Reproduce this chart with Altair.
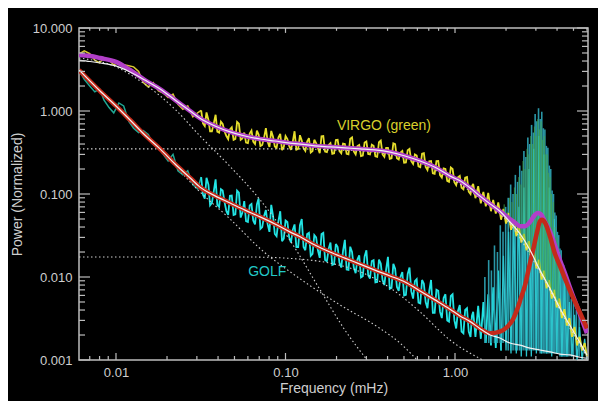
import altair as alt
import pandas as pd

# ---------------- data ----------------
freq = [0.0061, 0.0065, 0.0070, 0.0075, 0.0080, 0.0085, 0.0091, 0.0097, 0.0104, 0.0111,
        0.0119, 0.0127, 0.0136, 0.0145, 0.0155, 0.0166, 0.0178, 0.0190, 0.0203, 0.0217,
        0.0232, 0.0248, 0.0265, 0.0284, 0.0303,
        0.0318, 0.0334, 0.0351, 0.0368, 0.0387, 0.0406, 0.0426, 0.0448, 0.0470, 0.0494,
        0.0518, 0.0544, 0.0571, 0.0600, 0.0630, 0.0661, 0.0694, 0.0729, 0.0766, 0.0804,
        0.0844, 0.0886, 0.0931, 0.0977, 0.1026, 0.1077, 0.1131, 0.1188, 0.1247, 0.1309,
        0.1375, 0.1444, 0.1516, 0.1592, 0.1671, 0.1755, 0.1842, 0.1935, 0.2031, 0.2133,
        0.2240, 0.2352, 0.2469, 0.2593, 0.2722, 0.2858, 0.3001, 0.3151, 0.3309, 0.3474,
        0.3648, 0.3830, 0.4022, 0.4223, 0.4434, 0.4656, 0.4889, 0.5133, 0.5390, 0.5659,
        0.5942, 0.6239, 0.6551, 0.6879, 0.7223, 0.7584, 0.7963, 0.8361, 0.8779, 0.9218,
        0.9679, 1.016, 1.067, 1.121, 1.177, 1.235,
        1.28, 1.32, 1.37, 1.42, 1.47, 1.52, 1.57, 1.63, 1.68, 1.74,
        1.80, 1.87, 1.93, 2.00, 2.07, 2.14, 2.22, 2.30, 2.38, 2.46,
        2.55, 2.64, 2.73, 2.82, 2.92, 3.02, 3.13, 3.24, 3.35, 3.47,
        3.59, 3.72, 3.85, 3.98, 4.12, 4.27, 4.42, 4.57, 4.73, 4.90,
        5.07, 5.25, 5.43, 5.62, 5.82, 6.00]

virgo_power = [4.9, 5.3, 4.9, 4.1, 3.8, 4.4, 4.1, 3.6, 3.9, 3.6,
               3.5, 3.4, 3.0, 2.2, 1.95, 2.2, 1.75, 1.65, 1.45, 1.6,
               1.2, 1.05, 1.15, 0.85, 0.95,
               1.02, 0.66, 0.78, 0.57, 0.90, 0.55, 0.70, 0.50, 0.60, 0.45,
               0.74, 0.45, 0.55, 0.41, 0.58, 0.40, 0.52, 0.39, 0.62, 0.37,
               0.49, 0.36, 0.53, 0.37, 0.46, 0.34, 0.57, 0.35, 0.44, 0.33,
               0.47, 0.33, 0.41, 0.31, 0.50, 0.32, 0.41, 0.31, 0.45, 0.31,
               0.40, 0.30, 0.48, 0.30, 0.39, 0.29, 0.43, 0.30, 0.38, 0.28,
               0.44, 0.28, 0.36, 0.27, 0.40, 0.26, 0.33, 0.24, 0.35, 0.23,
               0.29, 0.21, 0.31, 0.195, 0.25, 0.175, 0.25, 0.158, 0.20, 0.14,
               0.20, 0.128, 0.165, 0.114, 0.16, 0.10,
               0.132, 0.089, 0.124, 0.077, 0.106, 0.071, 0.103, 0.062, 0.085, 0.058,
               0.079, 0.049, 0.066, 0.044, 0.059, 0.037, 0.049, 0.031, 0.043, 0.026,
               0.033, 0.021, 0.027, 0.0165, 0.0205, 0.0127, 0.0161, 0.0093, 0.0119, 0.0073,
               0.0092, 0.0055, 0.0070, 0.0043, 0.0055, 0.0032, 0.0041, 0.0026, 0.0032, 0.0019,
               0.0025, 0.0015, 0.0019, 0.0013, 0.0016, 0.0011]

golf_power = [3.0, 2.4, 2.0, 1.7, 1.85, 1.35, 1.1, 0.95, 1.25, 1.15,
              0.75, 0.62, 0.55, 0.58, 0.52, 0.40, 0.38, 0.30, 0.25, 0.30,
              0.19, 0.17, 0.19, 0.13, 0.115,
              0.16, 0.088, 0.13, 0.078, 0.15, 0.070, 0.11, 0.062, 0.095, 0.056,
              0.11, 0.052, 0.082, 0.046, 0.076, 0.043, 0.088, 0.040, 0.064, 0.035,
              0.055, 0.031, 0.062, 0.029, 0.046, 0.026, 0.043, 0.023, 0.050, 0.021,
              0.034, 0.019, 0.030, 0.017, 0.034, 0.0155, 0.026, 0.0143, 0.023, 0.0130,
              0.028, 0.0122, 0.020, 0.0111, 0.0182, 0.0102, 0.021, 0.0096, 0.0160, 0.0087,
              0.0145, 0.0080, 0.0175, 0.0074, 0.0126, 0.0068, 0.0115, 0.0061, 0.0130, 0.0055,
              0.0094, 0.0048, 0.0083, 0.0042, 0.0092, 0.0037, 0.0068, 0.0032, 0.0062, 0.0029,
              0.0062, 0.0024, 0.0046, 0.0021, 0.0042, 0.0019,
              0.0038, 0.0019, 0.0045, 0.0018, 0.0050, 0.0016, 0.0062, 0.0015, 0.0075, 0.0014,
              0.012, 0.0013, 0.018, 0.0013, 0.035, 0.0012, 0.05, 0.0012, 0.07, 0.0011,
              0.12, 0.0011, 0.2, 0.0011, 0.35, 0.0012, 0.5, 0.0012, 0.3, 0.0012,
              0.12, 0.0011, 0.05, 0.0012, 0.02, 0.0011, 0.009, 0.0011, 0.005, 0.0011,
              0.0035, 0.0010, 0.0025, 0.0010, 0.0018, 0.0010]

# extra spectrum bins lying between the bins above (0.03-1.26 mHz)
mid_freq = [0.0326, 0.0342, 0.0359, 0.0377, 0.0396, 0.0416, 0.0437, 0.0459, 0.0482, 0.0506,
            0.0531, 0.0557, 0.0585, 0.0615, 0.0645, 0.0678, 0.0711, 0.0747, 0.0785, 0.0824,
            0.0865, 0.0908, 0.0954, 0.1001, 0.1051, 0.1104, 0.1159, 0.1217, 0.1278, 0.1342,
            0.1409, 0.1479, 0.1553, 0.1631, 0.1712, 0.1798, 0.1888, 0.1982, 0.2081, 0.2185,
            0.2295, 0.2409, 0.2530, 0.2656, 0.2789, 0.2929, 0.3075, 0.3229, 0.3390, 0.3560,
            0.3738, 0.3924, 0.4121, 0.4327, 0.4543, 0.4770, 0.5009, 0.5259, 0.5522, 0.5799,
            0.6089, 0.6393, 0.6713, 0.7048, 0.7401, 0.7771, 0.8159, 0.8567, 0.8996, 0.9445,
            0.9918, 1.041, 1.093, 1.148, 1.205, 1.258]
virgo_mid = [0.71, 0.96, 0.57, 0.70, 0.565, 0.744, 0.567, 0.458, 0.635, 0.462,
             0.705, 0.466, 0.416, 0.534, 0.428, 0.581, 0.379, 0.475, 0.425, 0.575,
             0.374, 0.478, 0.338, 0.50, 0.379, 0.427, 0.342, 0.511, 0.356, 0.429,
             0.316, 0.45, 0.359, 0.495, 0.325, 0.39, 0.305, 0.447, 0.328, 0.404,
             0.305, 0.463, 0.326, 0.379, 0.286, 0.416, 0.304, 0.393, 0.285, 0.42,
             0.299, 0.36, 0.266, 0.408, 0.269, 0.316, 0.238, 0.336, 0.248, 0.30,
             0.215, 0.306, 0.212, 0.248, 0.178, 0.249, 0.169, 0.203, 0.144, 0.209,
             0.139, 0.159, 0.119, 0.157, 0.107, 0.124]
golf_mid = [0.098, 0.157, 0.073, 0.106, 0.074, 0.114, 0.080, 0.056, 0.096, 0.057,
            0.104, 0.060, 0.047, 0.073, 0.048, 0.075, 0.038, 0.054, 0.043, 0.074,
            0.033, 0.047, 0.027, 0.048, 0.030, 0.037, 0.023, 0.042, 0.023, 0.033,
            0.018, 0.032, 0.021, 0.033, 0.016, 0.022, 0.014, 0.025, 0.0148, 0.0206,
            0.0123, 0.0232, 0.013, 0.0162, 0.0099, 0.0177, 0.0105, 0.0156, 0.0086, 0.0162,
            0.0092, 0.0124, 0.0072, 0.0144, 0.0076, 0.0101, 0.0060, 0.0109, 0.0067, 0.0089,
            0.0049, 0.0092, 0.0050, 0.0068, 0.0037, 0.0070, 0.0038, 0.0056, 0.0030, 0.0059,
            0.0030, 0.0039, 0.0022, 0.0040, 0.0022, 0.0034]

# p-mode spikes
pmode_freq = [1.50, 1.58, 1.64, 1.71, 1.78, 1.85, 1.92, 1.99, 2.06, 2.13,
              2.20, 2.27, 2.34, 2.41, 2.48, 2.55, 2.62, 2.69, 2.76, 2.83,
              2.90, 2.97, 3.04, 3.11, 3.18, 3.25, 3.32, 3.39, 3.46, 3.53,
              3.60, 3.67, 3.74, 3.81, 3.88, 3.95, 4.02, 4.09, 4.16, 4.23,
              4.30, 4.37, 4.44, 4.51, 4.60, 4.70, 4.85, 5.00, 5.20, 5.40]
golf_pmode_peak = [0.010, 0.016, 0.012, 0.024, 0.020, 0.042, 0.035, 0.070, 0.090, 0.130,
                   0.100, 0.170, 0.140, 0.220, 0.190, 0.330, 0.280, 0.480, 0.400, 0.680,
                   0.550, 0.920, 0.750, 1.080, 0.800, 0.980, 0.620, 0.600, 0.380, 0.360,
                   0.220, 0.200, 0.110, 0.100, 0.060, 0.055, 0.035, 0.032, 0.022, 0.021,
                   0.014, 0.014, 0.010, 0.010, 0.0075, 0.007, 0.0055, 0.005, 0.004, 0.0034]
golf_pmode_base = [0.0016] * 8 + [0.0013] * 16 + [0.0012] * 14 + [0.0011] * 12

virgo_pmode_freq = [1.95, 2.03, 2.10, 2.17, 2.24, 2.31, 2.38, 2.45, 2.52, 2.59,
                    2.66, 2.73, 2.80, 2.87, 2.94, 3.01, 3.08, 3.15, 3.22, 3.29,
                    3.36, 3.43, 3.50, 3.57, 3.64, 3.71, 3.80, 3.90, 4.00, 4.10]
virgo_pmode_peak = [0.075, 0.06, 0.09, 0.08, 0.12, 0.10, 0.16, 0.13, 0.25, 0.20,
                    0.35, 0.30, 0.50, 0.40, 0.65, 0.50, 0.80, 0.60, 0.75, 0.45,
                    0.50, 0.30, 0.30, 0.18, 0.16, 0.10, 0.08, 0.04, 0.03, 0.018]
virgo_pmode_base = [0.055, 0.050, 0.046, 0.043, 0.039, 0.036, 0.033, 0.031, 0.028, 0.026,
                    0.0235, 0.022, 0.020, 0.018, 0.0165, 0.015, 0.0138, 0.0127, 0.0117, 0.0108,
                    0.0100, 0.0093, 0.0087, 0.0080, 0.0075, 0.0070, 0.0064, 0.0058, 0.0053, 0.0049]

# fitted models
vfit_freq = [0.00605, 0.00703, 0.00805, 0.0100, 0.0121, 0.0148, 0.0182, 0.0223, 0.0274, 0.0313,
             0.0384, 0.0471, 0.0577, 0.0708, 0.0867, 0.106, 0.122, 0.149, 0.183, 0.224,
             0.275, 0.337, 0.414, 0.507, 0.622, 0.762, 0.934, 1.07, 1.23, 1.40,
             1.61, 1.84, 2.11, 2.26, 2.42, 2.59, 2.77, 2.96, 3.09, 3.21,
             3.40, 3.64, 3.89, 4.16, 4.46, 4.77, 5.11, 5.47, 6.00]
vfit_power = [4.73, 4.60, 4.35, 3.90, 3.12, 2.36, 1.84, 1.36, 1.0, 0.82,
              0.66, 0.56, 0.50, 0.46, 0.435, 0.41, 0.40, 0.38, 0.37, 0.36,
              0.35, 0.34, 0.32, 0.287, 0.25, 0.21, 0.165, 0.144, 0.118, 0.095,
              0.076, 0.062, 0.050, 0.045, 0.041, 0.041, 0.046, 0.056, 0.059, 0.057,
              0.046, 0.035, 0.024, 0.016, 0.011, 0.0074, 0.0051, 0.0035, 0.0021]

gfit_freq = [0.00605, 0.00805, 0.0100, 0.0121, 0.0148, 0.0182, 0.0223, 0.0274, 0.0313, 0.0384,
             0.0471, 0.0577, 0.0708, 0.0867, 0.106, 0.122, 0.149, 0.183, 0.224, 0.275,
             0.337, 0.414, 0.507, 0.622, 0.762, 0.934, 1.07, 1.23, 1.40, 1.61,
             1.84, 2.03, 2.20, 2.32, 2.45, 2.59, 2.73, 2.89, 3.05, 3.17,
             3.26, 3.40, 3.64, 3.89, 4.16, 4.46, 4.77, 5.11, 5.47, 6.00]
gfit_power = [3.12, 1.74, 1.15, 0.78, 0.514, 0.35, 0.23, 0.156, 0.121, 0.095,
              0.078, 0.064, 0.053, 0.0435, 0.035, 0.0305, 0.0243, 0.020, 0.0169, 0.0143,
              0.0121, 0.0103, 0.0087, 0.0068, 0.0053, 0.0041, 0.0034, 0.0029, 0.0024, 0.0021,
              0.0022, 0.0025, 0.0031, 0.0040, 0.0056, 0.0080, 0.0129, 0.0212, 0.035, 0.047,
              0.049, 0.045, 0.0305, 0.019, 0.0136, 0.0095, 0.0068, 0.0050, 0.0037, 0.0024]

vbg_freq = [0.00605, 0.00703, 0.00805, 0.0100, 0.0121, 0.0148, 0.0182, 0.0223, 0.0274, 0.0313,
            0.0384, 0.0471, 0.0577, 0.0708, 0.0867, 0.106, 0.122, 0.149, 0.183, 0.224,
            0.275, 0.337, 0.414, 0.507, 0.622, 0.762, 0.934, 1.07, 1.23, 1.40,
            1.61, 1.84, 2.11, 2.42, 2.77, 3.17, 3.64, 4.16, 4.77, 5.47, 6.00]
vbg_power = [4.11, 3.95, 3.79, 3.49, 2.95, 2.36, 1.84, 1.36, 1.0, 0.82,
             0.66, 0.56, 0.50, 0.46, 0.435, 0.41, 0.40, 0.38, 0.37, 0.36,
             0.35, 0.34, 0.32, 0.287, 0.25, 0.21, 0.165, 0.144, 0.118, 0.095,
             0.076, 0.062, 0.046, 0.0331, 0.0212, 0.0121, 0.0072, 0.0042, 0.0026, 0.00161, 0.00115]

gbg_freq = gfit_freq[:29] + [1.61, 1.84, 2.11, 2.42, 2.77, 3.17, 3.64, 4.16, 4.77, 5.47, 6.00]
gbg_power = gfit_power[:29] + [0.0020, 0.00184, 0.0016, 0.00151, 0.00139, 0.00132,
                               0.00125, 0.00118, 0.00115, 0.00108, 0.00105]

# dotted model components
d1_freq = [0.00605, 0.0100, 0.0148, 0.0223, 0.0313, 0.0471, 0.0708, 0.106, 0.160, 0.224, 0.303]
d1_power = [4.35, 3.40, 2.10, 1.05, 0.50, 0.215, 0.085, 0.0279, 0.0070, 0.0023, 0.0010]
d2_freq = [0.00605, 0.0121, 0.0223, 0.0313, 0.0471, 0.0708, 0.122, 0.21, 0.361, 0.474, 0.597]
d2_power = [3.03, 0.758, 0.218, 0.106, 0.050, 0.022, 0.0095, 0.0046, 0.0024, 0.0016, 0.0010]
d3_freq = [0.00605, 0.122, 0.183, 0.275, 0.414, 0.622, 0.934, 1.40, 2.11, 3.17, 4.77, 6.00]
d3_power = [0.35, 0.35, 0.34, 0.33, 0.30, 0.236, 0.156, 0.089, 0.0434, 0.0115, 0.0024, 0.0011]
d4_freq = [0.00605, 0.0618, 0.122, 0.183, 0.275, 0.414, 0.622, 0.934, 1.46]
d4_power = [0.0174, 0.0174, 0.0164, 0.0147, 0.0116, 0.0074, 0.0038, 0.00174, 0.0010]

x_major = [0.01, 0.1, 1.0]
x_minor = [0.007, 0.008, 0.009, 0.02, 0.03, 0.04, 0.05, 0.06, 0.07, 0.08, 0.09,
           0.2, 0.3, 0.4, 0.5, 0.6, 0.7, 0.8, 0.9, 2, 3, 4, 5, 6]
y_major = [0.001, 0.01, 0.1, 1, 10]
y_minor = [0.002, 0.003, 0.004, 0.005, 0.006, 0.007, 0.008, 0.009,
           0.02, 0.03, 0.04, 0.05, 0.06, 0.07, 0.08, 0.09,
           0.2, 0.3, 0.4, 0.5, 0.6, 0.7, 0.8, 0.9,
           2, 3, 4, 5, 6, 7, 8, 9]

labels_text = ["VIRGO (green)", "GOLF"]
labels_freq = [0.201, 0.0602]
labels_power = [0.66, 0.0115]
labels_color = ["#d8d02c", "#22c8c8"]

# ---------------- chart ----------------
W, H = 509, 332
FONT = "Liberation Sans"
AX = "#bdbdbd"
TXT = "#cfcfcf"

xscale = alt.Scale(type="log", domain=[0.00605, 6.09], nice=False)
yscale = alt.Scale(type="log", domain=[0.001, 10], nice=False)
xaxis = alt.Axis(values=x_major, format=".2f", ticks=False, domain=False, grid=False,
                 labelFlush=False, labelColor=TXT, labelFont=FONT, labelFontSize=13,
                 labelPadding=6, title="Frequency (mHz)", titleColor=TXT, titleFont=FONT,
                 titleFontSize=14, titleFontWeight="normal", titleX=W / 2, titleY=28,
                 titleBaseline="middle", titleAlign="center")
yaxis = alt.Axis(values=y_major, format=".3f", ticks=False, domain=False, grid=False,
                 labelFlush=False, labelColor=TXT, labelFont=FONT, labelFontSize=13,
                 labelPadding=7, title="Power (Normalized)", titleColor=TXT, titleFont=FONT,
                 titleFontSize=14, titleFontWeight="normal", titleAngle=270, titleX=-62,
                 titleY=H / 2, titleBaseline="middle", titleAlign="center")


def X(field="f"):
    return alt.X(f"{field}:Q", scale=xscale, axis=xaxis)


def Y(field="p"):
    return alt.Y(f"{field}:Q", scale=yscale, axis=yaxis)


def series(fs, ps):
    return pd.DataFrame([{"f": a, "p": b} for a, b in zip(fs, ps)])


def line_df(df, color, width, dash=None, interp="linear", opacity=1.0):
    kw = dict(color=color, strokeWidth=width, clip=True, interpolate=interp, opacity=opacity,
              strokeJoin="miter", strokeMiterLimit=3)
    if dash:
        kw["strokeDash"] = dash
    return alt.Chart(df).mark_line(**kw).encode(x=X(), y=Y())


def line(fs, ps, color, width, dash=None, interp="linear", opacity=1.0):
    return line_df(series(fs, ps), color, width, dash, interp, opacity)


def spikes(fs, tops, bases, color, width, opacity=1.0):
    df = pd.DataFrame([{"f": a, "top": b, "base": c} for a, b, c in zip(fs, tops, bases)])
    return alt.Chart(df).mark_rule(color=color, strokeWidth=width, clip=True,
                                   opacity=opacity).encode(x=X(), y=Y("top"), y2="base:Q")


def ticks_x(vals, length):
    df = pd.DataFrame({"v": vals})
    b = alt.Chart(df).mark_rule(color=AX, strokeWidth=1.2).encode(
        x=X("v"), y=alt.value(H), y2=alt.value(H - length))
    t = alt.Chart(df).mark_rule(color=AX, strokeWidth=1.2).encode(
        x=X("v"), y=alt.value(0), y2=alt.value(length * 0.7))
    return [b, t]


def ticks_y(vals, length):
    df = pd.DataFrame({"v": vals})
    l = alt.Chart(df).mark_rule(color=AX, strokeWidth=1.2).encode(
        y=Y("v"), x=alt.value(0), x2=alt.value(length))
    r = alt.Chart(df).mark_rule(color=AX, strokeWidth=1.2).encode(
        y=Y("v"), x=alt.value(W), x2=alt.value(W - length))
    return [l, r]


golf_band = pd.concat([series(freq[25:113], golf_power[25:113]),
                       series(mid_freq, golf_mid)]).sort_values("f")
virgo_band = pd.concat([series(freq[25:], virgo_power[25:]),
                        series(mid_freq, virgo_mid)]).sort_values("f")

layers = []
# GOLF spectrum: teal at low frequency, dense cyan band, spiky p-mode part
layers.append(line(freq[:26], golf_power[:26], "#1fa894", 1.5))
layers.append(line_df(golf_band, "#22e4e4", 1.8))
layers.append(spikes(pmode_freq, golf_pmode_peak, golf_pmode_base, "#2a96a6", 1.6))
layers.append(line(freq[112:], golf_power[112:], "#2cc4cc", 1.3))
# VIRGO spectrum
layers.append(line(freq[:26], virgo_power[:26], "#d8c830", 1.5))
layers.append(line_df(virgo_band, "#e6de2c", 1.8))
layers.append(spikes(virgo_pmode_freq, virgo_pmode_peak, virgo_pmode_base, "#46a848", 1.0, 0.8))
dots = [1.5, 2.5]
layers.append(line(d1_freq, d1_power, "#cfcfcf", 1.1, dots, "monotone"))
layers.append(line(d2_freq, d2_power, "#cfcfcf", 1.1, dots, "monotone"))
layers.append(line(d3_freq, d3_power, "#cfcfcf", 1.1, dots, "monotone"))
layers.append(line(d4_freq, d4_power, "#cfcfcf", 1.1, dots, "monotone"))
layers.append(line(vfit_freq, vfit_power, "#b23fc8", 4.5, None, "monotone"))
layers.append(line(gfit_freq, gfit_power, "#c42a1a", 4.5, None, "monotone"))
layers.append(line(vbg_freq, vbg_power, "#f2f2f2", 1.2, None, "monotone"))
layers.append(line(gbg_freq, gbg_power, "#f2f2f2", 1.2, None, "monotone"))
layers += ticks_x(x_major, 7) + ticks_x(x_minor, 4)
layers += ticks_y(y_major, 11) + ticks_y(y_minor, 6)
for t, f, p, c in zip(labels_text, labels_freq, labels_power, labels_color):
    df = pd.DataFrame([{"f": f, "p": p, "t": t}])
    layers.append(alt.Chart(df).mark_text(align="left", baseline="middle", font=FONT,
                                          fontSize=14, color=c).encode(x=X(), y=Y(), text="t:N"))

chart = alt.layer(*layers).properties(
    width=W, height=H,
    padding={"left": 71, "top": 20, "right": 10, "bottom": 41},
    autosize=alt.AutoSizeParams(type="none"),
    background="black",
).configure_view(stroke=AX, strokeWidth=1.5)

chart.save("out.html", embed_options={"renderer": "svg", "actions": False})
